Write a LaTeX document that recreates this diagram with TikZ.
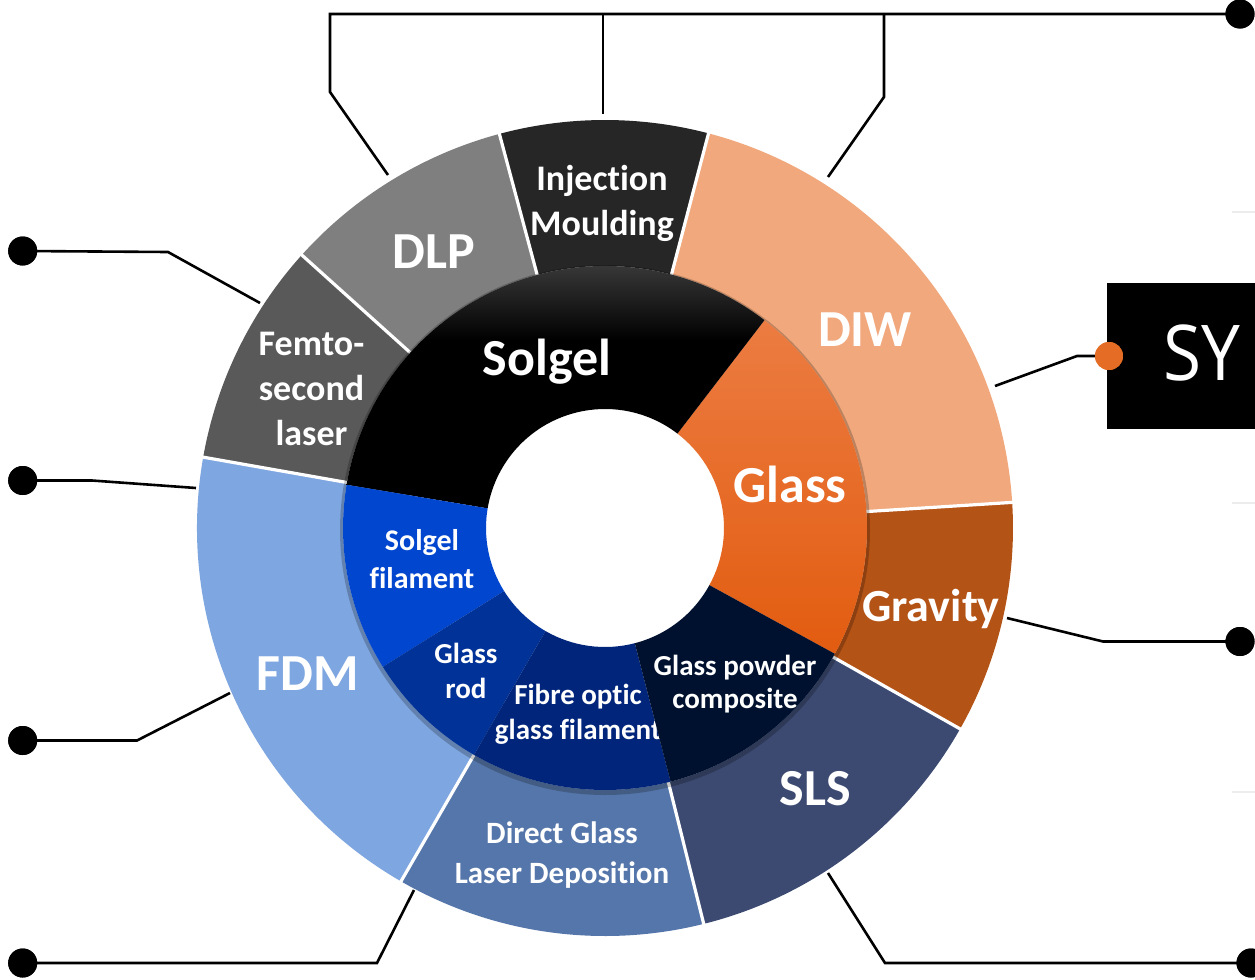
\documentclass[tikz,border=0pt]{standalone}
\usepackage{fontspec}
\setmainfont{Carlito}[Ligatures={NoCommon}]
\newfontfamily\syfont[FakeStretch=0.9]{Open Sans}
\definecolor{cDIW}{RGB}{240,168,124}
\definecolor{cInj}{RGB}{38,38,38}
\definecolor{cDLP}{RGB}{127,127,127}
\definecolor{cFem}{RGB}{89,89,89}
\definecolor{cFDM}{RGB}{126,166,224}
\definecolor{cDGL}{RGB}{85,118,170}
\definecolor{cSLS}{RGB}{60,74,114}
\definecolor{cGrav}{RGB}{180,83,22}
\definecolor{cGlassT}{RGB}{236,124,66}
\definecolor{cGlassB}{RGB}{226,92,16}
\definecolor{cSgTop}{RGB}{70,70,70}
\definecolor{cSgF}{RGB}{0,70,206}
\definecolor{cRod}{RGB}{0,50,152}
\definecolor{cFib}{RGB}{0,37,122}
\definecolor{cGpc}{RGB}{0,17,47}
\definecolor{cDot}{RGB}{228,108,36}
\definecolor{cFaint}{RGB}{236,236,236}
\pgfdeclareverticalshading{solgelsh}{100bp}{color(0bp)=(black); color(25bp)=(black); color(57bp)=(black); color(75bp)=(cSgTop); color(100bp)=(cSgTop)}
\newcommand\donutsec[5]{\path[#1] (#2:#4) arc[start angle=#2,end angle=#3,radius=#4] -- (#3:#5) arc[start angle=#3,end angle=#2,radius=#5] -- cycle;}
\begin{document}
\begin{tikzpicture}[x=0.5pt,y=-0.5pt,
  conn/.style={line width=1.3pt, black, line join=miter},
  dot/.style={circle, fill=black, inner sep=0pt, minimum size=14.5pt},
  sepline/.style={white, line width=1.6pt},
  lbl/.style={text=white, inner sep=0pt, align=center},
  big/.style={lbl, font=\bfseries\fontsize{26}{31}\selectfont, anchor=base},
  mid/.style={lbl, font=\bfseries\fontsize{18}{22.5}\selectfont},
  small/.style={lbl, font=\bfseries\fontsize{14.5}{17.5}\selectfont},
]
\useasboundingbox (0,0) rectangle (1255,980);
\clip (0,0) rectangle (1255,980);
\fill[white] (0,0) rectangle (1255,980);

% ---------- donut ----------
\begin{scope}[shift={(605,528)}, yscale=-1]
  % outer ring
  \donutsec{fill=cDIW}{3.6}{75.3}{262}{408}
  \donutsec{fill=cInj}{75.3}{105}{262}{408}
  \donutsec{fill=cDLP}{105}{138}{262}{408}
  \donutsec{fill=cFem}{138}{170}{262}{408}
  \donutsec{fill=cFDM}{170}{240}{262}{408}
  \donutsec{fill=cDGL}{240}{284}{262}{408}
  \donutsec{fill=cSLS}{284}{330.5}{262}{408}
  \donutsec{fill=cGrav}{330.5}{363.6}{262}{408}
  \foreach \a in {3.6,75.3,105,138,170,240,284,330.5}
    \draw[sepline] (\a:260) -- (\a:410);
  % shadow of inner ring
  \fill[black, opacity=0.22, even odd rule] (0,-2) circle[radius=265] (0,-2) circle[radius=200];
  % inner ring
  \donutsec{shade, top color=cGlassT, bottom color=cGlassB}{-28.7}{52.5}{119}{262}
  \donutsec{shade, shading=solgelsh}{52.5}{170.5}{119}{262}
  \donutsec{fill=cSgF}{170.5}{212}{119}{262}
  \donutsec{fill=cRod}{212}{240}{119}{262}
\end{scope}

% ---------- labels ----------
\node[big] (tSolgel) at (547,375) {Solgel};
\node[big] (tGlass) at (790,502) {Glass};
\node[big] (tDIW) at (865,346) {DIW};
\node[big] (tDLP) at (433.5,268) {DLP};
\node[big] (tFDM) at (307.5,690) {FDM};
\node[big] (tSLS) at (815.5,805) {SLS};
\node[lbl, font=\bfseries\fontsize{23}{28}\selectfont, anchor=base] (tGrav) at (931,621) {Gravity};
\node[mid] (tInj) at (602,203) {Injection\\Moulding};
\node[mid] (tFem) at (311.5,389) {Femto-\\second\\laser};
\node[lbl, font=\bfseries\fontsize{15.5}{20}\selectfont] (tDGL) at (562,855) {Direct Glass\\Laser Deposition};
\node[lbl, font=\bfseries\fontsize{15}{19}\selectfont] (tSgF) at (422,559) {Solgel\\filament};
\node[small] (tRod) at (466,671) {Glass\\rod};

\begin{scope}[shift={(605,528)}, yscale=-1]
  \donutsec{fill=cFib}{240}{284.5}{119}{262}
\end{scope}
\node[small] (tFib) at (578,714) {Fibre optic\\glass filament};
\begin{scope}[shift={(605,528)}, yscale=-1]
  \donutsec{fill=cGpc}{284.5}{331.3}{119}{262}
\end{scope}
\node[lbl, font=\bfseries\fontsize{14.5}{16.5}\selectfont] (tGpc) at (735,684) {Glass powder\\composite};

% ---------- legend box ----------
\node[fill=black, inner sep=0pt, minimum width=110pt, minimum height=73pt, anchor=north west] (sybox) at (1107,283) {};
\node[text=white, inner sep=0pt, anchor=base west, font=\syfont\fontsize{38.5}{40}\selectfont] (sy) at (1163,380) {SY};
\foreach \yy in {212,503,792} \draw[cFaint, line width=0.8pt] (1232,\yy) -- (1255,\yy);

% ---------- dots ----------
\node[dot] (dTop) at (1240,14) {};
\node[dot] (dFem) at (22.7,251) {};
\node[dot] (dFDMa) at (22.7,480.5) {};
\node[dot] (dFDMb) at (22.7,740.5) {};
\node[dot] (dDGL) at (22.7,963) {};
\node[dot] (dSLS) at (1251,963) {};
\node[dot] (dGrav) at (1240,641.5) {};
\node[dot, fill=cDot, minimum size=14pt] (dDIW) at (1109,356) {};

% ---------- connector points ----------
\coordinate (pDLP) at (388,175);
\coordinate (kDLPa) at (330,92);
\coordinate (kDLPb) at (330,14);
\coordinate (pInj) at (603,114);
\coordinate (kInj) at (603,14);
\coordinate (pDIWt) at (828,177);
\coordinate (kDIWa) at (884,97);
\coordinate (kDIWb) at (884,14);
\coordinate (pFem) at (260,303);
\coordinate (kFem) at (168,252);
\coordinate (pFDMa) at (196,488);
\coordinate (kFDMa) at (92,480.5);
\coordinate (pFDMb) at (230,693);
\coordinate (kFDMb) at (137,740.5);
\coordinate (pDGL) at (414,890);
\coordinate (kDGL) at (377,963);
\coordinate (pSLS) at (828,873);
\coordinate (kSLS) at (885,963);
\coordinate (pGrav) at (1007,618);
\coordinate (kGrav) at (1103,641.5);
\coordinate (pDIW) at (995,386);
\coordinate (kDIW) at (1077,356);

% ---------- connectors ----------
\draw[conn] (dTop.center) -- (kDLPb) -- (kDLPa) -- (pDLP);
\draw[conn] (kInj) -- (pInj);
\draw[conn] (kDIWb) -- (kDIWa) -- (pDIWt);
\draw[conn] (dFem.center) -- (kFem) -- (pFem);
\draw[conn] (dFDMa.center) -- (kFDMa) -- (pFDMa);
\draw[conn] (dFDMb.center) -- (kFDMb) -- (pFDMb);
\draw[conn] (dDGL.center) -- (kDGL) -- (pDGL);
\draw[conn] (pSLS) -- (kSLS) -- (dSLS.center);
\draw[conn] (pGrav) -- (kGrav) -- (dGrav.center);
\draw[conn] (pDIW) -- (kDIW) -- (dDIW.center);
% redraw dots over lines
\foreach \d in {dTop,dFem,dFDMa,dFDMb,dDGL,dSLS,dGrav}
  \fill[black] (\d) circle[radius=14.5];
\fill[cDot] (dDIW) circle[radius=14];
\end{tikzpicture}
\end{document}
